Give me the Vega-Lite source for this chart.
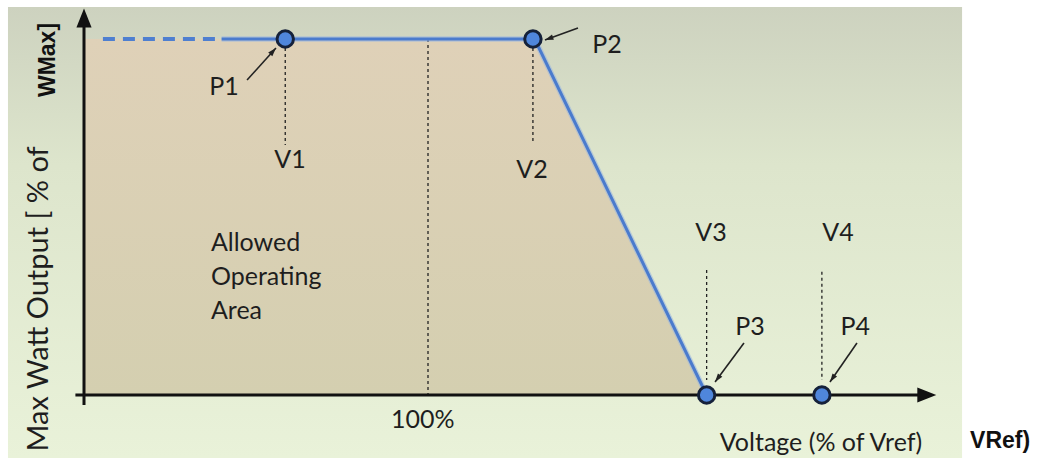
{
  "$schema": "https://vega.github.io/schema/vega-lite/v6.json",
  "width": 1038,
  "height": 461,
  "padding": 0,
  "autosize": {"type": "none"},
  "background": "white",
  "config": {
    "view": {"stroke": null},
    "text": {"font": "Lato", "fontSize": 25, "color": "#1e1e1e"}
  },
  "encoding": {
    "x": {"field": "v", "type": "quantitative", "scale": {"domain": [75.116, 135.465], "nice": false, "zero": false}, "axis": null},
    "y": {"field": "w", "type": "quantitative", "scale": {"domain": [-18.539, 110.955], "nice": false, "zero": false}, "axis": null}
  },
  "layer": [
    {
      "description": "slide backdrop",
      "data": {"values": [{"v": 75.58, "v2": 131.05, "w": 108.99, "w2": -17.7}]},
      "mark": {
        "type": "rect",
        "fill": {
          "gradient": "linear", "x1": 0, "y1": 0, "x2": 0, "y2": 1,
          "stops": [
            {"offset": 0, "color": "#cdd2bf"},
            {"offset": 0.35, "color": "#dde5cc"},
            {"offset": 1, "color": "#e9f2d9"}
          ]
        }
      },
      "encoding": {"x2": {"field": "v2"}, "y2": {"field": "w2"}}
    },
    {
      "description": "allowed operating area under the volt-watt curve",
      "data": {"values": [{"v": 80, "w": 100}, {"v": 106.2, "w": 100}, {"v": 116.2, "w": 0}]},
      "mark": {
        "type": "area",
        "fill": {
          "gradient": "linear", "x1": 0, "y1": 0, "x2": 0, "y2": 1,
          "stops": [
            {"offset": 0, "color": "#dfd1b8"},
            {"offset": 1, "color": "#d4cfb0"}
          ]
        }
      },
      "encoding": {"y2": {"datum": 0}}
    },
    {
      "description": "dotted guides at V1, 100%, V2, V3, V4",
      "data": {"values": [
        {"v": 91.7, "w": 97.5, "w2": 70.2},
        {"v": 100, "w": 100, "w2": 0},
        {"v": 106.1, "w": 97.5, "w2": 70.8},
        {"v": 116.2, "w": 35.1, "w2": 4.2},
        {"v": 122.9, "w": 34.6, "w2": 4.2}
      ]},
      "mark": {"type": "rule", "color": "#222222", "strokeWidth": 1.3, "strokeDash": [3, 3]},
      "encoding": {"y2": {"field": "w2"}}
    },
    {
      "description": "axis lines",
      "data": {"values": [
        {"v": 80, "v2": 80, "w": -2.8, "w2": 103.5},
        {"v": 79.5, "v2": 128.5, "w": 0, "w2": 0}
      ]},
      "mark": {"type": "rule", "color": "#111111", "strokeWidth": 3},
      "encoding": {"x2": {"field": "v2"}, "y2": {"field": "w2"}}
    },
    {
      "description": "axis arrowheads",
      "data": {"values": [{"v": 80, "w": 105.9, "dir": 0}, {"v": 129.0, "w": 0, "dir": 90}]},
      "mark": {"type": "point", "shape": "M0,-1L0.8,1L-0.8,1Z", "filled": true, "color": "#111111", "size": 360, "opacity": 1},
      "encoding": {"angle": {"field": "dir", "type": "quantitative", "scale": null}}
    },
    {
      "description": "dashed lead-in of the curve",
      "data": {"values": [{"v": 81.1, "w": 100}, {"v": 88.0, "w": 100}]},
      "mark": {"type": "line", "color": "#4e7fd0", "strokeWidth": 3.8, "strokeDash": [12, 8]}
    },
    {
      "description": "soft halo behind the curve",
      "data": {"values": [{"v": 88.0, "w": 100}, {"v": 106.2, "w": 100}, {"v": 116.2, "w": 0}]},
      "mark": {"type": "line", "color": "#9db8e0", "strokeWidth": 5.5, "opacity": 0.6}
    },
    {
      "description": "volt-watt curve",
      "data": {"values": [{"v": 88.0, "w": 100}, {"v": 106.2, "w": 100}, {"v": 116.2, "w": 0}]},
      "mark": {"type": "line", "color": "#4a7bcd", "strokeWidth": 3}
    },
    {
      "description": "pointer shafts",
      "data": {"values": [
        {"v": 89.48, "w": 88.48, "v2": 91.16, "w2": 97.47},
        {"v": 108.72, "w": 103.09, "v2": 106.8, "w2": 99.72},
        {"v": 118.37, "w": 14.61, "v2": 116.69, "w2": 3.65},
        {"v": 124.94, "w": 14.61, "v2": 123.37, "w2": 3.65}
      ]},
      "mark": {"type": "rule", "color": "#222222", "strokeWidth": 1.6},
      "encoding": {"x2": {"field": "v2"}, "y2": {"field": "w2"}}
    },
    {
      "description": "pointer heads, turned along each shaft",
      "data": {"values": [
        {"v": 89.48, "w": 88.48, "v2": 91.16, "w2": 97.47},
        {"v": 108.72, "w": 103.09, "v2": 106.8, "w2": 99.72},
        {"v": 118.37, "w": 14.61, "v2": 116.69, "w2": 3.65},
        {"v": 124.94, "w": 14.61, "v2": 123.37, "w2": 3.65}
      ]},
      "transform": [
        {"calculate": "atan2((datum.v2 - datum.v) * 17.2, (datum.w2 - datum.w) * 3.56) * 180 / PI", "as": "ang"}
      ],
      "mark": {"type": "point", "shape": "M0,0L0.55,1.7L-0.55,1.7Z", "filled": true, "color": "#222222", "size": 100, "opacity": 1},
      "encoding": {
        "x": {"field": "v2", "type": "quantitative"},
        "y": {"field": "w2", "type": "quantitative"},
        "angle": {"field": "ang", "type": "quantitative", "scale": null}
      }
    },
    {
      "description": "curve points P1-P4",
      "data": {"values": [
        {"v": 91.7, "w": 100, "name": "P1"},
        {"v": 106.1, "w": 100, "name": "P2"},
        {"v": 116.2, "w": 0, "name": "P3"},
        {"v": 122.9, "w": 0, "name": "P4"}
      ]},
      "mark": {"type": "point", "shape": "circle", "filled": true, "fill": "#4f86dc", "stroke": "#15213a", "strokeWidth": 3, "size": 270, "opacity": 1}
    },
    {
      "description": "point and voltage labels",
      "data": {"values": [
        {"v": 91.98, "w": 66.0, "label": "V1"},
        {"v": 106.05, "w": 63.2, "label": "V2"},
        {"v": 116.45, "w": 45.5, "label": "V3"},
        {"v": 123.84, "w": 45.5, "label": "V4"},
        {"v": 88.14, "w": 86.5, "label": "P1"},
        {"v": 110.41, "w": 98.3, "label": "P2"},
        {"v": 118.72, "w": 19.1, "label": "P3"},
        {"v": 124.84, "w": 19.1, "label": "P4"},
        {"v": 99.7, "w": -7.0, "label": "100%"},
        {"v": 122.85, "w": -13.5, "label": "Voltage (% of Vref)"}
      ]},
      "mark": {"type": "text", "align": "center", "baseline": "middle"},
      "encoding": {"text": {"field": "label"}}
    },
    {
      "description": "area caption",
      "data": {"values": [
        {"v": 87.38, "w": 42.7, "label": "Allowed"},
        {"v": 87.38, "w": 33.15, "label": "Operating"},
        {"v": 87.38, "w": 23.6, "label": "Area"}
      ]},
      "mark": {"type": "text", "align": "left", "baseline": "middle"},
      "encoding": {"text": {"field": "label"}}
    },
    {
      "description": "vertical axis title",
      "data": {"values": [{"v": 77.4, "w": 27.0, "label": "Max Watt Output [ % of"}]},
      "mark": {"type": "text", "align": "center", "baseline": "middle", "angle": 270, "fontSize": 29},
      "encoding": {"text": {"field": "label"}}
    },
    {
      "description": "bold units",
      "data": {"values": [
        {"v": 77.91, "w": 94.1, "label": "WMax]", "rot": 270},
        {"v": 133.26, "w": -12.9, "label": "VRef)", "rot": 0}
      ]},
      "mark": {"type": "text", "align": "center", "baseline": "middle", "font": "Liberation Sans", "fontWeight": "bold", "fontSize": 23, "color": "#111111"},
      "encoding": {"text": {"field": "label"}, "angle": {"field": "rot", "type": "quantitative", "scale": null}}
    }
  ]
}
